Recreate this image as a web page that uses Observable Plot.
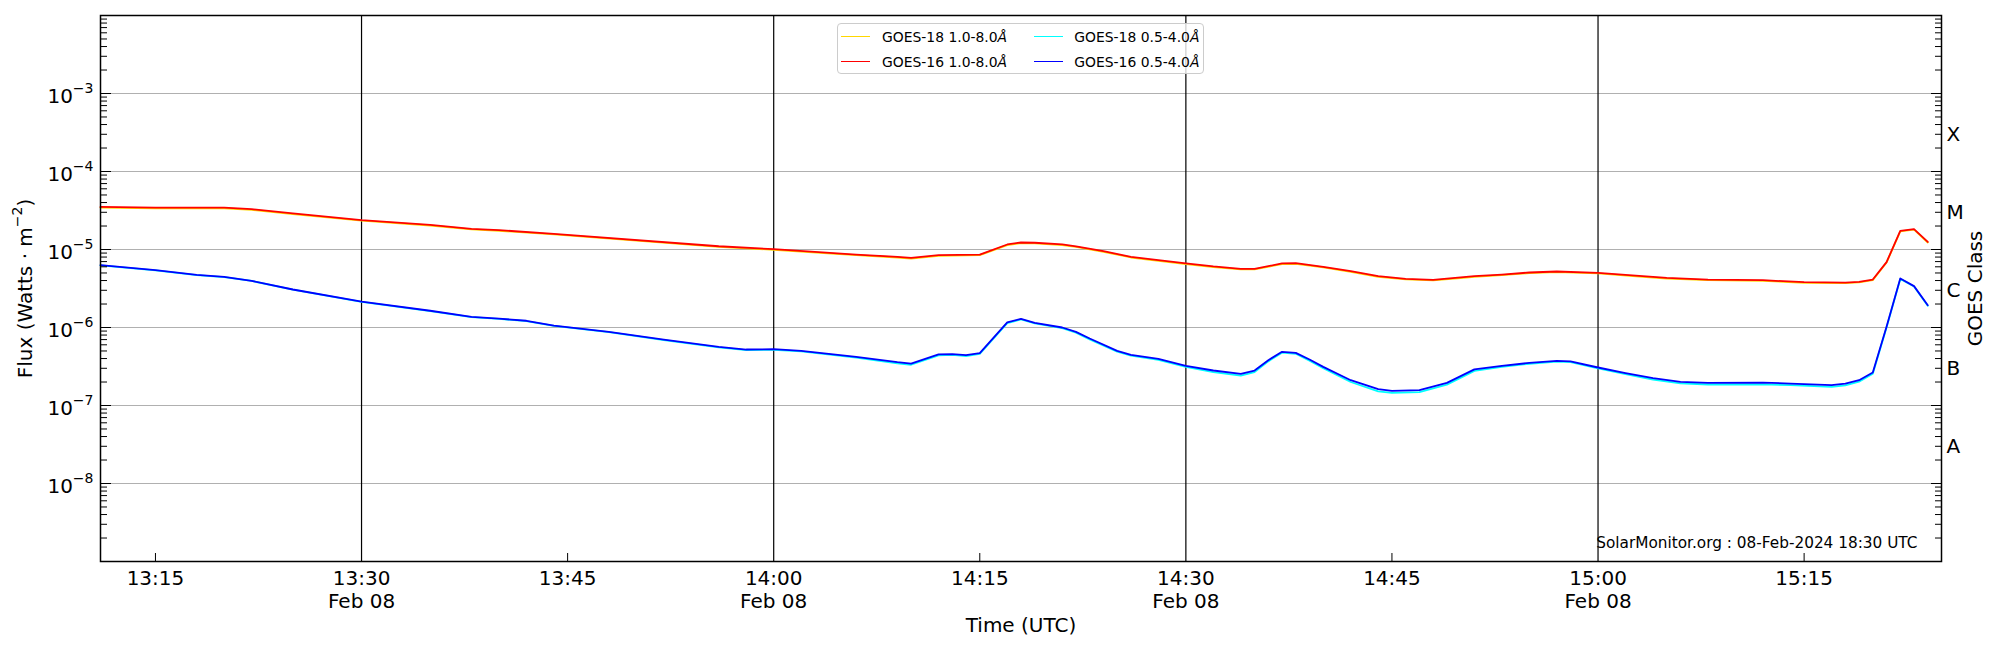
<!DOCTYPE html>
<html><head><meta charset="utf-8">
<script src="https://cdn.jsdelivr.net/npm/d3@7"></script>
<script src="https://cdn.jsdelivr.net/npm/@observablehq/plot@0.6"></script>
<style>
html,body{margin:0;padding:0;background:#fff;}
#wrap{position:relative;width:2000px;height:650px;font-family:"DejaVu Sans",sans-serif;}
#legend{position:absolute;left:837px;top:23px;width:367px;height:51px;border:1px solid #cccccc;border-radius:4px;background:rgba(255,255,255,0.8);box-sizing:border-box;}
.sw{position:absolute;height:0;border-top:1.4px solid;width:29px;}
.lt{position:absolute;font-size:13.9px;line-height:14px;white-space:nowrap;color:#000;}
</style></head><body><div id="wrap"></div>
<script>
const day = "2024-02-08";
const toDate = t => new Date(`${day}T${t}:00Z`);

// 1.0-8.0 Å channel
const longTimes = ["13:11","13:15","13:20","13:22","13:25","13:30","13:35","13:38","13:40","13:44",
"13:56","14:00","14:06","14:09","14:10","14:12","14:15","14:17","14:18","14:19",
"14:21","14:22","14:24","14:26","14:28","14:30","14:32","14:34","14:35","14:37",
"14:38","14:40","14:42","14:44","14:46","14:48","14:50","14:51","14:53","14:55",
"14:57","15:00","15:03","15:05","15:08","15:12","15:15","15:18","15:19","15:20",
"15:21","15:22","15:23","15:24"];
const goes16Long = [3.52e-5,3.45e-5,3.45e-5,3.29e-5,2.90e-5,2.38e-5,2.07e-5,1.84e-5,1.77e-5,1.59e-5,
1.10e-5,1.01e-5,8.62e-6,8.05e-6,7.81e-6,8.45e-6,8.60e-6,1.16e-5,1.23e-5,1.22e-5,
1.16e-5,1.10e-5,9.52e-6,8.05e-6,7.30e-6,6.62e-6,6.06e-6,5.65e-6,5.65e-6,6.62e-6,
6.68e-6,6.00e-6,5.27e-6,4.55e-6,4.21e-6,4.09e-6,4.38e-6,4.55e-6,4.77e-6,5.07e-6,
5.22e-6,5.02e-6,4.59e-6,4.33e-6,4.12e-6,4.04e-6,3.81e-6,3.77e-6,3.85e-6,4.12e-6,
6.88e-6,1.73e-5,1.82e-5,1.25e-5];
const goes18Long = [3.45e-5,3.38e-5,3.38e-5,3.23e-5,2.85e-5,2.34e-5,2.03e-5,1.81e-5,1.74e-5,1.56e-5,
1.08e-5,9.90e-6,8.45e-6,7.90e-6,7.66e-6,8.30e-6,8.45e-6,1.14e-5,1.21e-5,1.20e-5,
1.14e-5,1.08e-5,9.35e-6,7.90e-6,7.15e-6,6.50e-6,5.95e-6,5.55e-6,5.55e-6,6.50e-6,
6.55e-6,5.90e-6,5.17e-6,4.47e-6,4.13e-6,4.01e-6,4.30e-6,4.47e-6,4.68e-6,4.98e-6,
5.12e-6,4.93e-6,4.50e-6,4.25e-6,4.04e-6,3.96e-6,3.74e-6,3.70e-6,3.78e-6,4.05e-6,
6.80e-6,1.71e-5,1.80e-5,1.23e-5];

// 0.5-4.0 Å channel
const shortTimes = ["13:11","13:15","13:18","13:20","13:22","13:25","13:30","13:35","13:38","13:40",
"13:42","13:44","13:48","13:52","13:56","13:58","14:00","14:02","14:06","14:09",
"14:10","14:12","14:13","14:14","14:15","14:17","14:18","14:19","14:21","14:22",
"14:23","14:25","14:26","14:28","14:30","14:32","14:34","14:35","14:36","14:37",
"14:38","14:39","14:40","14:42","14:44","14:45","14:47","14:49","14:51","14:53",
"14:55","14:57","14:58","15:00","15:02","15:04","15:06","15:08","15:12","15:14",
"15:17","15:18","15:19","15:20","15:21","15:22","15:23","15:24"];
const goes16Short = [6.30e-6,5.43e-6,4.73e-6,4.46e-6,3.97e-6,3.07e-6,2.15e-6,1.64e-6,1.37e-6,1.30e-6,
1.22e-6,1.06e-6,8.80e-7,7.01e-7,5.65e-7,5.22e-7,5.27e-7,5.02e-7,4.21e-7,3.60e-7,
3.45e-7,4.51e-7,4.55e-7,4.42e-7,4.69e-7,1.16e-6,1.29e-6,1.15e-6,1.00e-6,8.80e-7,
7.22e-7,5.02e-7,4.46e-7,3.97e-7,3.23e-7,2.81e-7,2.55e-7,2.81e-7,3.81e-7,4.88e-7,
4.73e-7,3.89e-7,3.13e-7,2.11e-7,1.62e-7,1.54e-7,1.57e-7,1.95e-7,2.90e-7,3.23e-7,
3.52e-7,3.74e-7,3.67e-7,3.07e-7,2.60e-7,2.24e-7,2.01e-7,1.95e-7,1.97e-7,1.91e-7,
1.82e-7,1.91e-7,2.11e-7,2.65e-7,1.02e-6,4.25e-6,3.39e-6,1.93e-6];
const goes18Short = [6.25e-6,5.40e-6,4.70e-6,4.43e-6,3.95e-6,3.05e-6,2.13e-6,1.62e-6,1.36e-6,1.29e-6,
1.21e-6,1.05e-6,8.70e-7,6.90e-7,5.55e-7,5.12e-7,5.18e-7,4.93e-7,4.10e-7,3.48e-7,
3.33e-7,4.40e-7,4.45e-7,4.30e-7,4.58e-7,1.14e-6,1.27e-6,1.13e-6,9.80e-7,8.60e-7,
7.05e-7,4.90e-7,4.35e-7,3.85e-7,3.12e-7,2.68e-7,2.42e-7,2.68e-7,3.68e-7,4.75e-7,
4.60e-7,3.76e-7,3.00e-7,2.00e-7,1.52e-7,1.45e-7,1.48e-7,1.85e-7,2.78e-7,3.13e-7,
3.43e-7,3.66e-7,3.60e-7,3.00e-7,2.52e-7,2.15e-7,1.92e-7,1.86e-7,1.87e-7,1.82e-7,
1.73e-7,1.81e-7,2.02e-7,2.55e-7,1.00e-6,4.20e-6,3.35e-6,1.90e-6];

const seriesNames = ["GOES-18 1.0-8.0", "GOES-16 1.0-8.0", "GOES-18 0.5-4.0", "GOES-16 0.5-4.0"];
const seriesColors = ["gold", "red", "cyan", "blue"];

const xDomain = ["13:11", "15:25"];
const xTickTimes = ["13:15","13:30","13:45","14:00","14:15","14:30","14:45","15:00","15:15"];
const xMajorTimes = ["13:30","14:00","14:30","15:00"];
const xMinorTimes = ["13:15","13:45","14:15","14:45","15:15"];
const dateLabel = "Feb 08";
const yDomain = [1e-9, 1e-2];
const yDecades = [1e-9,1e-8,1e-7,1e-6,1e-5,1e-4,1e-3,1e-2];
const yLabelDecades = [1e-8,1e-7,1e-6,1e-5,1e-4,1e-3];
const classTicks = [3e-8,3e-7,3e-6,3e-5,3e-4];
const classLabels = ["A","B","C","M","X"];
const yTitle = "Flux (Watts · m{−2})";
const y2Title = "GOES Class";
const xTitle = "Time (UTC)";
const note = "SolarMonitor.org : 08-Feb-2024 18:30 UTC";

const rows = (times, values) => times.map((t, i) => ({date: toDate(t), flux: values[i]}));
const seriesData = [rows(longTimes, goes18Long), rows(longTimes, goes16Long), rows(shortTimes, goes18Short), rows(shortTimes, goes16Short)];

const FS = 20;
const fmtX = d => {
  const hh = String(d.getUTCHours()).padStart(2, "0");
  const mm = String(d.getUTCMinutes()).padStart(2, "0");
  const s = `${hh}:${mm}`;
  return xMajorTimes.includes(s) ? `${s}\n${dateLabel}` : s;
};
const noLabel = () => "";

const chart = Plot.plot({
  width: 2000, height: 650,
  marginLeft: 100, marginRight: 59, marginTop: 15, marginBottom: 89,
  style: {fontFamily: '"DejaVu Sans", sans-serif', background: "white", color: "black"},
  x: {type: "utc", domain: xDomain.map(toDate)},
  y: {type: "log", domain: yDomain},
  marks: [
    Plot.ruleY(yLabelDecades, {stroke: "#b0b0b0", strokeWidth: 1}),
    Plot.ruleX(xMajorTimes.map(toDate), {stroke: "black", strokeWidth: 1.2}),
    ...seriesData.map((d, i) => Plot.line(d, {x: "date", y: "flux", stroke: seriesColors[i], strokeWidth: 1.8})),
    Plot.axisY({anchor: "left", ticks: 100, tickSize: -7, tickFormat: noLabel, label: null}),
    Plot.axisY({anchor: "left", ticks: yDecades, tickSize: -11, tickFormat: noLabel, label: null}),
    Plot.axisY({anchor: "right", ticks: 100, tickSize: -7, tickFormat: noLabel, label: null}),
    Plot.axisY({anchor: "right", ticks: yDecades, tickSize: -11, tickFormat: noLabel, label: null}),
    Plot.axisY({anchor: "left", ticks: yLabelDecades, tickSize: 0, tickPadding: 7, dy: 3, fontSize: FS,
      tickFormat: d => `10{−${-Math.round(Math.log10(d))}}`, label: null}),
    Plot.text(classTicks, {y: d => d, text: (d, i) => classLabels[i], frameAnchor: "right", dx: 5,
      textAnchor: "start", lineAnchor: "middle", fontSize: FS}),
    Plot.axisX({anchor: "bottom", ticks: xMinorTimes.map(toDate), tickSize: -8, tickFormat: noLabel, label: null}),
    Plot.axisX({anchor: "bottom", ticks: xTickTimes.map(toDate), tickSize: 0, tickPadding: 7, fontSize: FS,
      lineHeight: 1.15, tickFormat: fmtX, label: null}),
    Plot.frame({stroke: "black", strokeWidth: 1.5}),
    Plot.text([yTitle], {text: d => d, frameAnchor: "left", dx: -75, rotate: -90, fontSize: FS,
      textAnchor: "middle", lineAnchor: "middle"}),
    Plot.text([y2Title], {text: d => d, frameAnchor: "right", dx: 34, rotate: -90, fontSize: FS,
      textAnchor: "middle", lineAnchor: "middle"}),
    Plot.text([xTitle], {text: d => d, frameAnchor: "bottom", dy: 64, fontSize: FS,
      textAnchor: "middle", lineAnchor: "middle"}),
    Plot.text([note], {text: d => d, frameAnchor: "bottom-right", dx: -24, dy: -18, fontSize: 15.3,
      textAnchor: "end", lineAnchor: "middle"})
  ]
});

const wrap = document.getElementById("wrap");
wrap.appendChild(chart);

// superscripts written as {…}
d3.select(chart).selectAll("text").each(function() {
  const s = this.textContent;
  if (!s.includes("{")) return;
  const el = d3.select(this);
  el.text("");
  const parts = s.split(/(\{[^}]*\})/).filter(p => p);
  let raised = false;
  for (const p of parts) {
    if (p.startsWith("{")) {
      el.append("tspan").attr("font-size", FS * 0.7).attr("dy", -FS * 0.48).text(p.slice(1, -1));
      raised = true;
    } else {
      const t = el.append("tspan").text(p);
      if (raised) { t.attr("dy", FS * 0.48); raised = false; }
    }
  }
});

// legend
const legend = document.createElement("div");
legend.id = "legend";
const cols = [[0, 1], [2, 3]];
const colSw = [3, 196.3], colTx = [44, 236.3], rowY = [13, 37.3];
cols.forEach((col, ci) => col.forEach((si, ri) => {
  const sw = document.createElement("div");
  sw.className = "sw";
  sw.style.left = colSw[ci] + "px";
  sw.style.top = (rowY[ri] - 0.7) + "px";
  sw.style.borderColor = seriesColors[si];
  legend.appendChild(sw);
  const tx = document.createElement("div");
  tx.className = "lt";
  tx.style.left = colTx[ci] + "px";
  tx.style.top = (rowY[ri] - 6.7) + "px";
  tx.textContent = seriesNames[si];
  const aa = document.createElement("i");
  aa.textContent = "Å";
  tx.appendChild(aa);
  legend.appendChild(tx);
}));
wrap.appendChild(legend);
</script></body></html>
